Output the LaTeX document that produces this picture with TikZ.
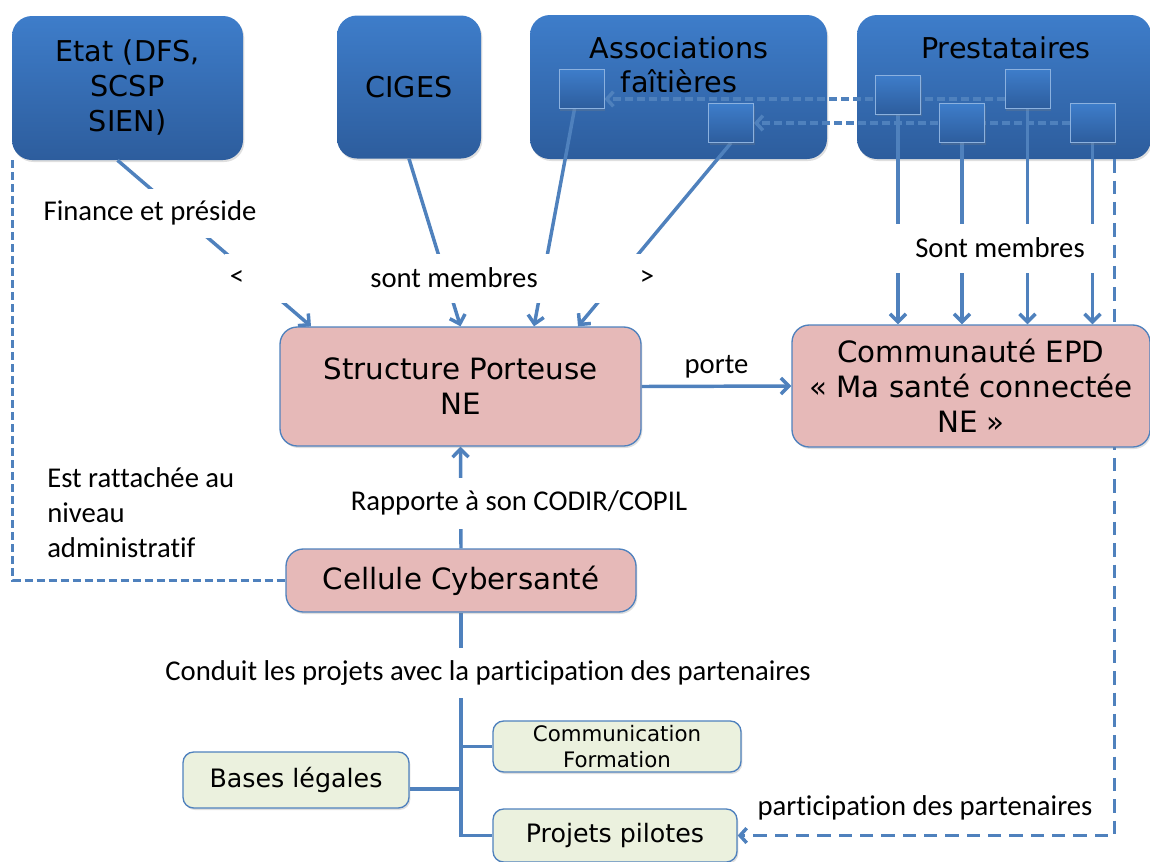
\documentclass[tikz,border=0pt]{standalone}
\usepackage{fontspec}
\setmainfont{Carlito}[Ligatures=NoCommon]
\newfontfamily\verd{DejaVu Sans}
\usetikzlibrary{arrows.meta,calc,shadows}

\definecolor{trait}{HTML}{4F81BD}
\definecolor{bleuhaut}{HTML}{3E7DCA}
\definecolor{bleubas}{HTML}{2D5D9D}
\definecolor{rose}{HTML}{E6B9B8}
\definecolor{vert}{HTML}{EBF1DE}

\pgfdeclarelayer{fond}
\pgfdeclarelayer{dessus}
\pgfsetlayers{fond,main,dessus}

\tikzset{
  taille/.style 2 args={minimum width=#1*0.75pt, minimum height=#2*0.75pt},
  ombre/.style={drop shadow={opacity=0.25, shadow xshift=1pt, shadow yshift=-1.5pt}},
  acteur/.style={rounded corners=15pt, inner sep=0pt, top color=bleuhaut, bottom color=bleubas,
    ombre, align=center, font=\verd\fontsize{21.5}{26.25}\selectfont},
  carre/.style={inner sep=0pt, top color=bleuhaut, bottom color=bleubas, draw=bleuhaut!60!white,
    line width=0.6pt, ombre, taille={45}{39}},
  entite/.style={rounded corners=13pt, inner sep=0pt, fill=rose, draw=trait, line width=1pt,
    ombre, align=center, font=\verd\fontsize{22}{26.25}\selectfont},
  tache/.style={rounded corners=8pt, inner sep=0pt, fill=vert, draw=trait, line width=1pt,
    ombre, align=center, font=\verd\fontsize{19}{23}\selectfont},
  etiq/.style={inner sep=0pt, font=\fontsize{21.5}{26.25}\selectfont},
  masque/.style={etiq, fill=white, minimum height=49*0.75pt},
  lien/.style={draw=trait, line width=2.6pt},
  fleche/.style={lien, -{Straight Barb[length=6pt,width=12pt]}},
  pointille/.style={lien, dash pattern=on 6pt off 3pt},
  tirets/.style={lien, dash pattern=on 10pt off 6pt},
}

\begin{document}
\begin{tikzpicture}[x=0.75pt, y=-0.75pt]
  \useasboundingbox (0,0) rectangle (1150,861);

  %%%%%%%%%%%%%%%%%%%%%%%%%%%%%%%%%%%%%%%%%%%%%%%%%%%%%%%%%%%%%%%%%%%%%%%%%%%
  %%%%  Acteurs (en haut)
  \begin{pgfonlayer}{fond}
    \node[acteur, taille={231}{144}] (etat) at (127.5,88) {Etat (DFS,\\SCSP\\SIEN)};
    \node[acteur, taille={144}{143}] (ciges) at (409,87) {CIGES};
    \node[acteur, taille={297}{144}] (assoc) at (678.5,87) {};
    \node[acteur, taille={294}{144}] (presta) at (1004,87) {};
  \end{pgfonlayer}

  \begin{pgfonlayer}{dessus}
    \node[etiq, font=\verd\fontsize{21.5}{25.5}\selectfont, align=center] (assocnom) at (679,65) {Associations\\faîtières};
    \node[etiq, font=\verd\fontsize{21.5}{25.5}\selectfont] (prestanom) at (1006,48) {Prestataires};

    % membres (petits carres)
    \node[carre] (a1) at (581.5,89) {};
    \node[carre] (a2) at (731,123) {};
    \foreach \nom/\x/\y in {p1/898/94.5, p2/962/123, p3/1027.5/89, p4/1092.5/123}
      {\node[carre] (\nom) at (\x,\y) {};}

    %%%%%%%%%%%%%%%%%%%%%%%%%%%%%%%%%%%%%%%%%%%%%%%%%%%%%%%%%%%%%%%%%%%%%%%%%
    %%%%  Entites
    \node[entite, taille={361}{119}] (struct) at (460.5,386.5) {Structure Porteuse\\NE};
    \node[entite, taille={358}{122}] (epd) at (971,386) {Communauté EPD\\« Ma santé connectée\\NE »};
    \node[entite, taille={350}{63}] (cellule) at (461,580.5) {Cellule Cybersanté};

    %%%%  Projets
    \node[tache, taille={248}{51}, font=\verd\fontsize{16}{19.5}\selectfont] (comm) at (617,746.5) {Communication\\Formation};
    \node[tache, taille={226}{56}] (bases) at (296,780) {Bases légales};
    \node[tache, taille={244}{53}] (projets) at (615,835.5) {Projets pilotes};
  \end{pgfonlayer}

  %%%%%%%%%%%%%%%%%%%%%%%%%%%%%%%%%%%%%%%%%%%%%%%%%%%%%%%%%%%%%%%%%%%%%%%%%%%
  %%%%  Liens
  \draw[fleche] ($(etat.south)+(-10,0)$) -- ($(struct.north)+(-149.5,0)$);
  \draw[fleche] (ciges.south) -- (struct.north);
  \draw[fleche] ($(a1.south)+(-7,0)$) -- ($(struct.north)+(73.5,0)$);
  \draw[fleche] (a2.south) -- ($(struct.north)+(117.5,0)$);

  \foreach \p in {p1,p2,p3,p4}
    {\draw[fleche] (\p.south) -- (\p.south |- epd.north);}

  \draw[pointille, -{Straight Barb[length=5pt,width=11pt]}] ($(p3.west)+(0,10)$) -- ($(a1.east)+(0,10)$);
  \draw[pointille, -{Straight Barb[length=5pt,width=11pt]}] (p4.west) -- (a2.east);

  \draw[fleche] (struct.east) -- node[etiq, above=5pt] (porte) {porte} (epd.west);
  \draw[fleche] (cellule.north) -- (struct.south);

  % rattachement administratif
  \draw[pointille] ($(etat.south west)+(1,0)$) |- (cellule.west);
  % participation des partenaires
  \draw[tirets, -{Straight Barb[length=5pt,width=11pt]}] ($(presta.south east)+(-37,0)$) |- (projets.east);

  % arbre des projets
  \draw[lien] (cellule.south) -- (cellule.south |- projets.west) -- (projets.west);
  \draw[lien] (cellule.south |- comm.west) -- (comm.west);
  \draw[lien] ($(bases.east)+(0,9)$) -- (cellule.south |- {$(bases.east)+(0,9)$});

  %%%%%%%%%%%%%%%%%%%%%%%%%%%%%%%%%%%%%%%%%%%%%%%%%%%%%%%%%%%%%%%%%%%%%%%%%%%
  %%%%  Etiquettes
  \begin{pgfonlayer}{dessus}
    \node[masque] (finance) at (150,213) {Finance et préside};
    \node[masque, minimum width=435*0.75pt] (membres) at (442,278) {\hspace*{18pt}sont membres};
    \node[etiq] (inf) at (237,278) {<};
    \node[etiq] (sup) at (647,278) {>};
    \node[masque, minimum width=210*0.75pt] (sontm) at (1000,248) {Sont membres};
    \node[masque, minimum height=51*0.75pt] (rapporte) at (519,503) {Rapporte à son CODIR/COPIL};
    \node[masque, minimum height=50*0.75pt] (conduit) at (488,673) {Conduit les projets avec la participation des partenaires};
    \node[etiq, align=left, anchor=west] (rattache) at (47,513) {Est rattachée au\\niveau\\administratif};
    \node[etiq] (particip) at (925,808) {participation des partenaires};
  \end{pgfonlayer}
\end{tikzpicture}
\end{document}
